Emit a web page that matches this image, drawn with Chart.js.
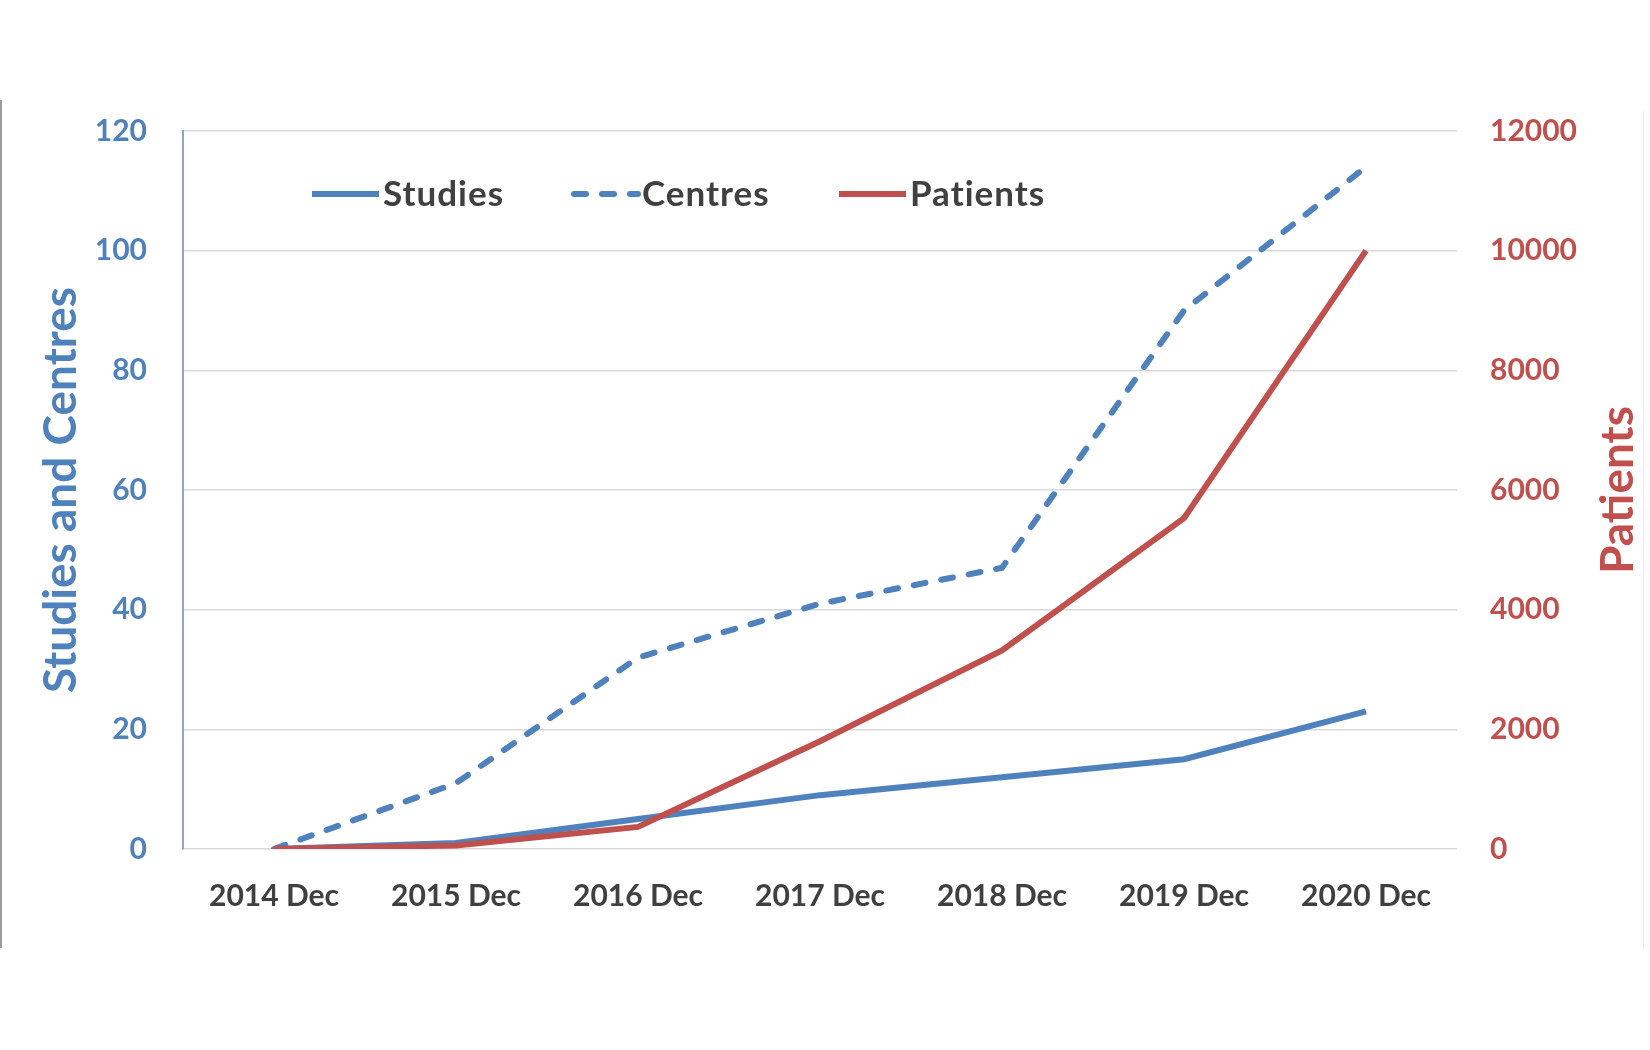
<!DOCTYPE html>
<html>
<head>
<meta charset="utf-8">
<script src="https://cdn.jsdelivr.net/npm/chart.js@4.4.1/dist/chart.umd.min.js"></script>
<style>
  html, body { margin: 0; padding: 0; background: #fff; }
  #wrap { position: relative; width: 1650px; height: 1050px; }
  #frameL { position: absolute; left: 0; top: 100px; width: 2px; height: 848px; background: #9a9a9a; }
  #frameR { position: absolute; left: 1643px; top: 110px; width: 1px; height: 838px; background: #f0f0f0; }
</style>
</head>
<body>
<div id="wrap">
  <canvas id="chart" width="1650" height="1050"></canvas>
  <div id="frameL"></div>
  <div id="frameR"></div>
</div>
<script>
const labels = ['2014 Dec', '2015 Dec', '2016 Dec', '2017 Dec', '2018 Dec', '2019 Dec', '2020 Dec'];
const studies = [0, 1, 5, 9, 12, 15, 23];
const centres = [0, 11, 32, 41, 47, 90, 114];
const patients = [0, 60, 370, 1800, 3320, 5530, 10000];

const BLUE = '#4F81BD';
const RED = '#C0504D';
const GREY = '#404040';
const FONT = 'Lato, "Open Sans", sans-serif';

// where each legend entry starts (Excel put the legend inside the plot, left of centre)
const legendStarts = [312, 571, 839];

// axis titles + legend drawn by hand
const overlay = {
   id: 'overlay',
   afterDraw(chart) {
      const ctx = chart.ctx;
      const a = chart.chartArea;
      const midY = (a.top + a.bottom) / 2;

      ctx.save();
      ctx.textAlign = 'center';
      ctx.textBaseline = 'middle';
      ctx.font = 'bold 46px ' + FONT;
      ctx.fillStyle = BLUE;
      ctx.translate(61, midY);
      ctx.rotate(-Math.PI / 2);
      ctx.fillText('Studies and Centres', 0, 0);
      ctx.restore();

      ctx.save();
      ctx.textAlign = 'center';
      ctx.textBaseline = 'middle';
      ctx.font = 'bold 46px ' + FONT;
      ctx.fillStyle = RED;
      ctx.translate(1618, midY);
      ctx.rotate(-Math.PI / 2);
      ctx.fillText('Patients', 0, 0);
      ctx.restore();

      // legend
      ctx.save();
      ctx.font = 'bold 35px ' + FONT;
      if ('letterSpacing' in ctx) ctx.letterSpacing = '1px';
      ctx.textBaseline = 'middle';
      ctx.textAlign = 'left';
      const y = 194;
      chart.data.datasets.forEach((ds, i) => {
         const x = legendStarts[i];
         ctx.beginPath();
         ctx.strokeStyle = ds.borderColor;
         ctx.lineWidth = ds.borderWidth;
         ctx.lineCap = ds.borderDash ? 'round' : 'butt';
         ctx.setLineDash(ds.borderDash || []);
         ctx.moveTo(x + (ds.borderDash ? 3 : 0), y);
         ctx.lineTo(x + 67, y);
         ctx.stroke();
         ctx.setLineDash([]);
         ctx.fillStyle = GREY;
         ctx.fillText(ds.label, x + 71, y + 1);
      });
      ctx.restore();
   }
};

function draw() {
   const context = document.getElementById('chart').getContext('2d');
   new Chart(context, {
      type: 'line',
      data: {
         labels: labels,
         datasets: [
            {
               label: 'Studies',
               data: studies,
               yAxisID: 'y',
               borderColor: BLUE,
               borderWidth: 6,
               pointRadius: 0,
               order: 2,
            },
            {
               label: 'Centres',
               data: centres,
               yAxisID: 'y',
               borderColor: BLUE,
               borderWidth: 6,
               borderDash: [12, 16],
               borderCapStyle: 'round',
               pointRadius: 0,
               order: 1,
            },
            {
               label: 'Patients',
               data: patients,
               yAxisID: 'y1',
               borderColor: RED,
               borderWidth: 6,
               pointRadius: 0,
               order: 0,
            },
         ],
      },
      options: {
         responsive: false,
         animation: false,
         devicePixelRatio: 1,
         layout: { padding: { top: 131, left: 0, right: 0, bottom: 0 } },
         plugins: {
            legend: { display: false },
            tooltip: { enabled: false },
         },
         scales: {
            x: {
               offset: true,
               grid: { display: false },
               border: { display: false },
               ticks: {
                  color: GREY,
                  font: { family: FONT, size: 30, weight: 'bold' },
                  padding: 21,
                  maxRotation: 0,
                  autoSkip: false,
               },
               afterFit: (s) => { s.height = 201; },
            },
            y: {
               position: 'left',
               min: 0,
               max: 120,
               grid: { color: '#D9D9D9', lineWidth: 1.5, drawTicks: false },
               border: { display: true, color: '#8EA4C8', width: 2 },
               ticks: {
                  stepSize: 20,
                  color: BLUE,
                  font: { family: FONT, size: 30, weight: 'bold' },
                  padding: 36,
               },
               afterFit: (s) => { s.width = 183; },
            },
            y1: {
               position: 'right',
               min: 0,
               max: 12000,
               grid: { drawOnChartArea: false, drawTicks: false },
               border: { display: false },
               ticks: {
                  stepSize: 2000,
                  color: RED,
                  font: { family: FONT, size: 30, weight: 'bold' },
                  padding: 33,
                  callback: (v) => String(v),
               },
               afterFit: (s) => { s.width = 193; },
            },
         },
      },
      plugins: [overlay],
   });
}

if (document.fonts && document.fonts.load) {
   document.fonts.load('bold 28px Lato').then(draw, draw);
} else {
   draw();
}
</script>
</body>
</html>
